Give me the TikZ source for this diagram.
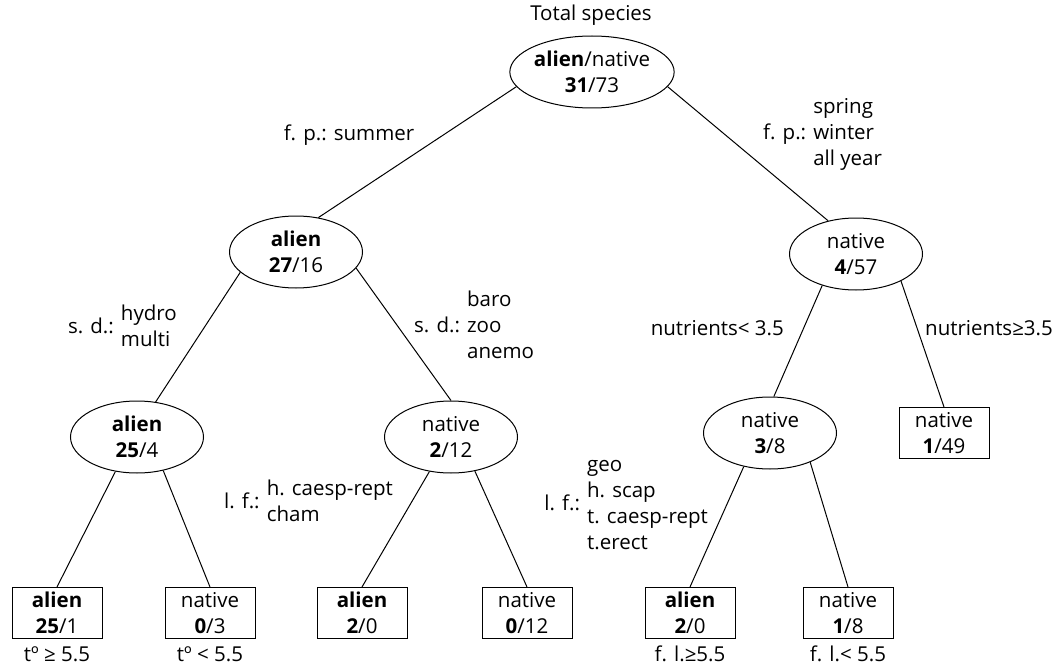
\documentclass[tikz,border=0pt]{standalone}
\usepackage{fontspec}
\setmainfont{Open Sans}
\usetikzlibrary{shapes.geometric}
\begin{document}
\begin{tikzpicture}[x=1pt,y=-1pt,
  every node/.style={font=\fontsize{20.5}{26}\selectfont, inner sep=0pt},
  split/.style={draw, ellipse, minimum width=133pt, minimum height=72pt, align=center, line width=1pt},
  leaf/.style={draw, rectangle, minimum width=90pt, minimum height=51pt, align=center, line width=1pt},
  branch/.style={line width=1pt},
  note/.style={align=center}
]
\useasboundingbox (0,0) rectangle (1058,666);

% inner splits
\node[note] (title) at (591,15) {Total species};
\node[split] (root) at (592,72) {\textbf{alien}/native\\\textbf{31}/73};
\node[split] (n1) at (296,252) {\textbf{alien}\\\textbf{27}/16};
\node[split] (n2) at (856,254) {native\\\textbf{4}/57};
\node[split] (n3) at (137,437) {\textbf{alien}\\\textbf{25}/4};
\node[split] (n4) at (451,437) {native\\\textbf{2}/12};
\node[split] (n5) at (770,433) {native\\\textbf{3}/8};
\node[leaf] (n6) at (944,433) {native\\\textbf{1}/49};

% terminal leaves
\node[leaf] (a) at (57,613) {\textbf{alien}\\\textbf{25}/1};
\node[leaf] (b) at (210,613) {native\\\textbf{0}/3};
\node[leaf] (c) at (362,613) {\textbf{alien}\\\textbf{2}/0};
\node[leaf] (d) at (527,613) {native\\\textbf{0}/12};
\node[leaf] (e) at (690,613) {\textbf{alien}\\\textbf{2}/0};
\node[leaf] (f) at (848,613) {native\\\textbf{1}/8};

% branches
\draw[branch] (root.191) -- (n1.57);
\draw[branch] (root.349) -- (n2.130);
\draw[branch] (n1.200) -- (n3.62);
\draw[branch] (n1.-15) -- (n4.north);
\draw[branch] (n2.223) -- (n5.84);
\draw[branch] (n2.-31) -- (n6.north);
\draw[branch] (n3.-122) -- (a.north);
\draw[branch] (n3.-52) -- (b.north);
\draw[branch] (n4.-122) -- (c.north);
\draw[branch] (n4.-55) -- (d.north);
\draw[branch] (n5.-128) -- (e.north);
\draw[branch] (n5.-36) -- (f.north);

% split conditions
\node (fp1) at (349,135) {f. p.: summer};
\node[anchor=west] (fp2) at (763,134) {f. p.: \begin{tabular}{@{}l@{}}spring\\winter\\all year\end{tabular}};
\node[anchor=east] (sd1) at (177,328) {s. d.: \begin{tabular}{@{}l@{}}hydro\\multi\end{tabular}};
\node[anchor=west] (sd2) at (414,327) {s. d.: \begin{tabular}{@{}l@{}}baro\\zoo\\anemo\end{tabular}};
\node[anchor=east] (nu1) at (784,328) {nutrients< 3.5};
\node[anchor=west] (nu2) at (925,328) {nutrients≥3.5};
\node[anchor=east] (lf1) at (393,503) {l. f.: \begin{tabular}{@{}l@{}}h. caesp-rept\\cham\end{tabular}};
\node[anchor=east] (lf2) at (708,505) {l. f.: \begin{tabular}{@{}l@{}}geo\\h. scap\\t. caesp-rept\\t.erect\end{tabular}};

% leaf conditions
\node (t1) at (57,654) {tº ≥ 5.5};
\node (t2) at (210,654) {tº < 5.5};
\node (t3) at (690,654) {f. l.≥5.5};
\node (t4) at (848,654) {f. l.< 5.5};
\end{tikzpicture}
\end{document}
